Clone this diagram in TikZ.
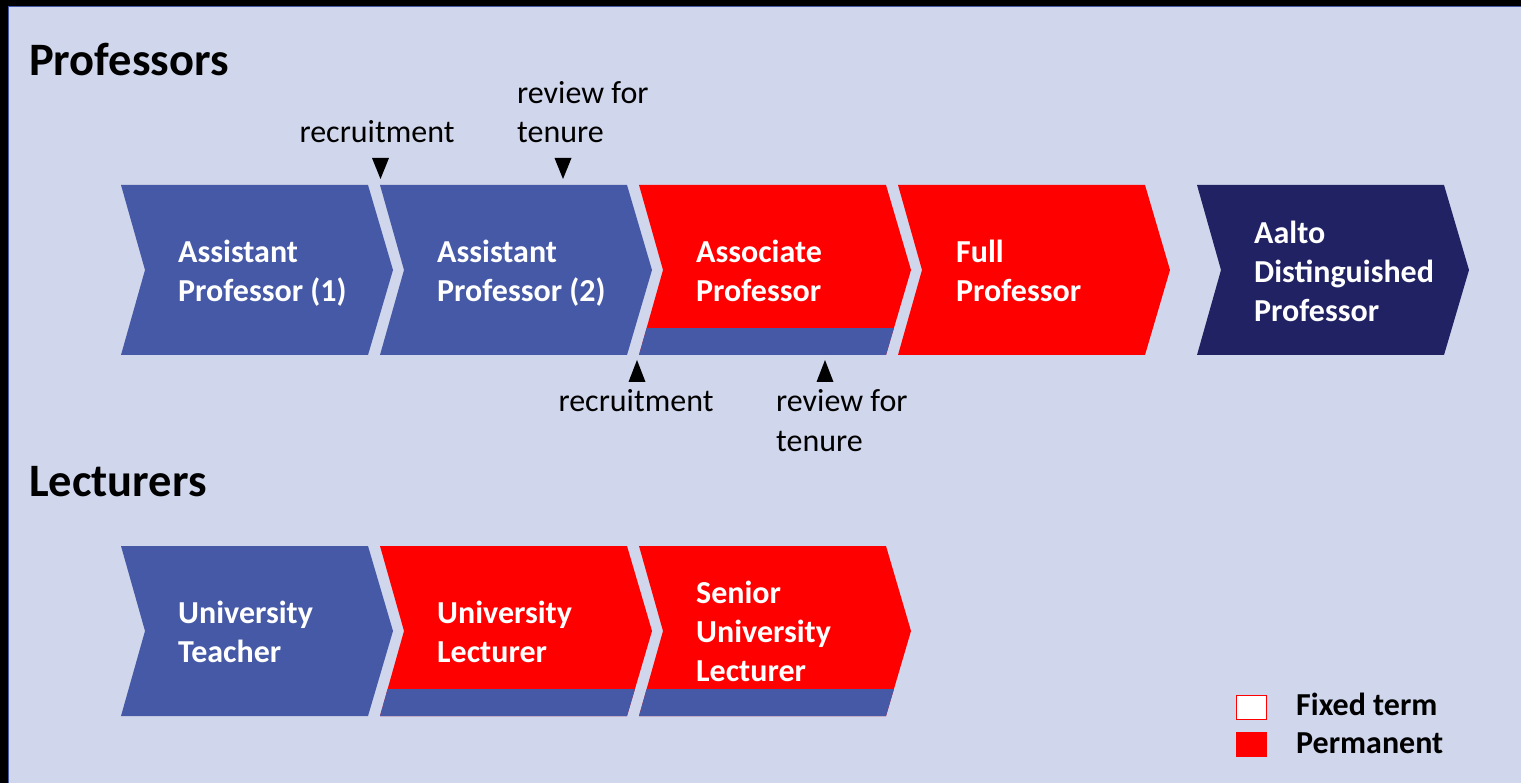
\documentclass[tikz,border=0pt]{standalone}
\usepackage{fontspec}
\setmainfont{Carlito}
\definecolor{bgc}{HTML}{D0D6EB}
\definecolor{bluec}{HTML}{4559A7}
\definecolor{navyc}{HTML}{212264}
\definecolor{redc}{HTML}{FF0000}
\newcommand\chevfill[3]{\fill[#3] (#1,#2) -- ++(247,0) -- ++(25,85) -- ++(-25,85) -- ++(-247,0) -- ++(24,-85) -- cycle;}
\newcommand\chevband[3]{\begin{scope}\clip (#1,#2) -- ++(247,0) -- ++(25,85) -- ++(-25,85) -- ++(-247,0) -- ++(24,-85) -- cycle;
  \fill[#3] (#1-5,#2+143) rectangle (#1+280,#2+175);\end{scope}}
\begin{document}
\begin{tikzpicture}[x=1pt,y=-1pt,
  lbl/.style={font=\fontsize{32}{39}\selectfont, inner sep=0pt, align=left},
  ctext/.style={font=\bfseries\fontsize{32}{39}\selectfont, text=white, inner sep=0pt, align=left, anchor=west},
  ttl/.style={font=\bfseries\fontsize{46.5}{55}\selectfont, inner sep=0pt, anchor=base west},
  legtext/.style={font=\bfseries\fontsize{32}{39}\selectfont, inner sep=0pt, anchor=base west},
  tri/.style={fill=black}]
\useasboundingbox (0,0) rectangle (1521,783);
\fill[black] (0,0) rectangle (1521,783);
\fill[bgc] (8,6) rectangle (1521,783);
\draw[bluec, line width=1.3pt] (8.7,783) -- (8.7,6.7) -- (1521,6.7);

% titles
\node[ttl] (tprof) at (29,76) {Professors};
\node[ttl] (tlect) at (29,496) {Lecturers};

% professors row
\chevfill{121}{185}{bluec}
\chevfill{380}{185}{bluec}
\chevfill{639}{185}{redc}
\chevband{639}{185}{bluec}
\chevfill{898}{185}{redc}
\chevfill{1197}{185}{navyc}
\node[ctext] (ap1) at (178,273.5) {Assistant\\Professor (1)};
\node[ctext] (ap2) at (437,273.5) {Assistant\\Professor (2)};
\node[ctext] (asp) at (696,271) {Associate\\Professor};
\node[ctext] (fp)  at (956,271) {Full\\Professor};
\node[ctext] (adp) at (1254,271) {Aalto\\Distinguished\\Professor};

% lecturers row
\chevfill{121}{546}{bluec}
\chevfill{380}{546}{redc}
\chevband{380}{546}{bluec}
\chevfill{639}{546}{redc}
\chevband{639}{546}{bluec}
\node[ctext] (ut) at (178,631.5) {University\\Teacher};
\node[ctext] (ul) at (437,631.5) {University\\Lecturer};
\node[ctext] (sul) at (696,631.5) {Senior\\University\\Lecturer};

% labels above
\node[lbl, anchor=base] (rec1) at (377,143) {recruitment};
\node[lbl, anchor=base west] (rev1a) at (517,104) {review for};
\node[lbl, anchor=base west] (rev1b) at (517,143) {tenure};
\coordinate (m1) at (380.5,179);
\coordinate (m2) at (563,179);
\fill[tri] (m1) -- ++(-8.5,-21) -- ++(17,0) -- cycle;
\fill[tri] (m2) -- ++(-8.5,-21) -- ++(17,0) -- cycle;

% labels below
\coordinate (m3) at (637,360);
\coordinate (m4) at (825,360);
\fill[tri] (m3) -- ++(-8.5,22) -- ++(17,0) -- cycle;
\fill[tri] (m4) -- ++(-8.5,22) -- ++(17,0) -- cycle;
\node[lbl, anchor=base] (rec2) at (636,412) {recruitment};
\node[lbl, anchor=base west] (rev2a) at (776,412) {review for};
\node[lbl, anchor=base west] (rev2b) at (776,451) {tenure};

% legend
\node[draw=redc, line width=1pt, fill=white, minimum width=30pt, minimum height=24pt, inner sep=0pt] (lgfix) at (1251.5,707.5) {};
\node[fill=redc, minimum width=31pt, minimum height=25pt, inner sep=0pt] (lgperm) at (1251.5,744.5) {};
\node[legtext] (lgfixt) at (1296,715) {Fixed term};
\node[legtext] (lgpermt) at (1296,753) {Permanent};
\end{tikzpicture}
\end{document}
